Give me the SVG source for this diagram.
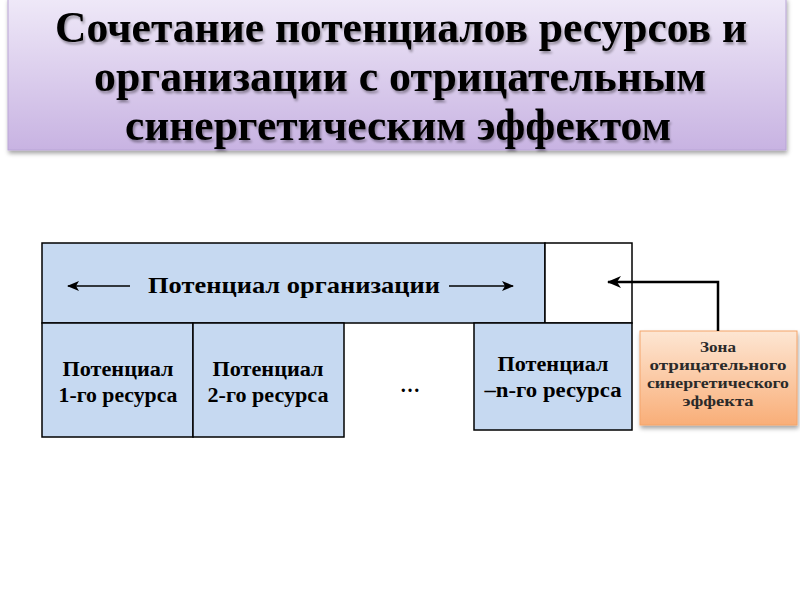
<svg xmlns="http://www.w3.org/2000/svg" width="800" height="600" viewBox="0 0 800 600">
<defs>
<linearGradient id="tg" x1="0" y1="0" x2="0" y2="1">
<stop offset="0" stop-color="#efe9f8"/>
<stop offset="1" stop-color="#c8b3e2"/>
</linearGradient>
<linearGradient id="og" x1="0" y1="0" x2="0" y2="1">
<stop offset="0" stop-color="#fde6d3"/>
<stop offset="1" stop-color="#f9ae78"/>
</linearGradient>
<filter id="sh" x="-10%" y="-10%" width="120%" height="130%">
<feDropShadow dx="1" dy="3" stdDeviation="2" flood-color="#000" flood-opacity="0.35"/>
</filter>
<filter id="tsh" x="-5%" y="-20%" width="110%" height="150%">
<feDropShadow dx="1.5" dy="2.5" stdDeviation="1.2" flood-color="#000" flood-opacity="0.35"/>
</filter>
<marker id="ah" viewBox="0 0 12 10" refX="11" refY="5" markerWidth="12" markerHeight="10" markerUnits="userSpaceOnUse" orient="auto">
<path d="M0,0 L12,5 L0,10 L3,5 Z" fill="#000"/>
</marker>
<marker id="ah2" viewBox="0 0 14 12" refX="13" refY="6" markerWidth="14" markerHeight="12" markerUnits="userSpaceOnUse" orient="auto">
<path d="M0,0 L14,6 L0,12 L4,6 Z" fill="#000"/>
</marker>
</defs>
<style>
.t{font-family:"Liberation Serif","Times New Roman",serif;font-weight:bold;fill:#000;text-anchor:middle}
.title{font-size:44px}
.b{fill:#c6d9f1;stroke:#000;stroke-width:1.5}
.l{font-size:20px}
.o{font-size:15px;fill:#2a2a2a}
</style>
<rect width="800" height="600" fill="#fff"/>
<g id="title">
<rect x="8" y="-2" width="778" height="152" fill="url(#tg)" stroke="#b9a5d6" stroke-width="1" filter="url(#sh)"/>
<g filter="url(#tsh)">
<text class="t title" x="401" y="42" textLength="692" lengthAdjust="spacingAndGlyphs">Сочетание потенциалов ресурсов и</text>
<text class="t title" x="400" y="91" textLength="612" lengthAdjust="spacingAndGlyphs">организации с отрицательным</text>
<text class="t title" x="398" y="140" textLength="546" lengthAdjust="spacingAndGlyphs">синергетическим эффектом</text>
</g>
</g>
<g id="org">
<rect class="b" x="42" y="243" width="503" height="80"/>
<text class="t" x="294" y="293" font-size="24" textLength="292" lengthAdjust="spacingAndGlyphs">Потенциал организации</text>
</g>
<g id="zone-gap">
<rect x="545" y="243" width="87" height="80" fill="#fff" stroke="#000" stroke-width="1.5"/>
</g>
<g id="res1">
<rect class="b" x="42" y="323" width="151" height="114"/>
<text class="t l" x="118" y="376" textLength="111" lengthAdjust="spacingAndGlyphs">Потенциал</text>
<text class="t l" x="118" y="402" textLength="119" lengthAdjust="spacingAndGlyphs">1-го ресурса</text>
</g>
<g id="res2">
<rect class="b" x="193" y="323" width="151" height="114"/>
<text class="t l" x="268" y="376" textLength="111" lengthAdjust="spacingAndGlyphs">Потенциал</text>
<text class="t l" x="268" y="402" textLength="121" lengthAdjust="spacingAndGlyphs">2-го ресурса</text>
</g>
<g id="dots">
<text class="t l" x="410" y="392">…</text>
</g>
<g id="resn">
<rect class="b" x="474" y="323" width="158" height="107"/>
<text class="t l" x="553" y="371" textLength="111" lengthAdjust="spacingAndGlyphs">Потенциал</text>
<text class="t l" x="553" y="397" textLength="137" lengthAdjust="spacingAndGlyphs">–n-го ресурса</text>
</g>
<g id="zone">
<rect x="640" y="331" width="157" height="94" fill="url(#og)" stroke="#f4a46a" stroke-width="1" filter="url(#sh)"/>
<text class="t o" x="718" y="352" textLength="36" lengthAdjust="spacingAndGlyphs">Зона</text>
<text class="t o" x="718" y="370" textLength="137" lengthAdjust="spacingAndGlyphs">отрицательного</text>
<text class="t o" x="718" y="388" textLength="142" lengthAdjust="spacingAndGlyphs">синергетического</text>
<text class="t o" x="718" y="406" textLength="71" lengthAdjust="spacingAndGlyphs">эффекта</text>
</g>
<g id="connectors" fill="none" stroke="#000">
<line x1="130" y1="286" x2="68" y2="286" stroke-width="1.5" marker-end="url(#ah)"/>
<line x1="449" y1="286" x2="513" y2="286" stroke-width="1.5" marker-end="url(#ah)"/>
<polyline points="718,331 718,282 608,282" stroke-width="2.5" marker-end="url(#ah2)"/>
</g>
</svg>
